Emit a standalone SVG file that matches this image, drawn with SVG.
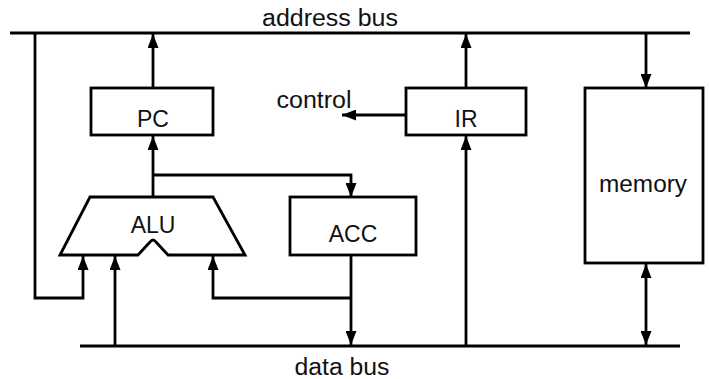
<svg xmlns="http://www.w3.org/2000/svg" width="709" height="379" viewBox="0 0 709 379">
<style>
.ln{fill:none;stroke:#000;stroke-width:2.8;stroke-linejoin:miter}
.box{fill:#fff;stroke:#000;stroke-width:2.8}
text{font-family:"Liberation Sans",Arial,sans-serif;font-size:23px;fill:#111;text-anchor:middle}
</style>
<defs>
<marker id="ah" viewBox="0 0 14 11" refX="14" refY="5.5" markerWidth="14" markerHeight="11" markerUnits="userSpaceOnUse" orient="auto-start-reverse">
<path d="M0,0 L14,5.5 L0,11 z" fill="#000"/>
</marker>
</defs>
<rect width="709" height="379" fill="#fff"/>
<text x="330" y="26" textLength="136" lengthAdjust="spacingAndGlyphs">address bus</text>
<text x="342" y="375" textLength="95" lengthAdjust="spacingAndGlyphs">data bus</text>
<g id="connectors">
<line class="ln" x1="10" y1="33" x2="690" y2="33"/>
<line class="ln" x1="80" y1="346" x2="680" y2="346"/>
<polyline class="ln" points="35,33 35,298 83,298 83,256" marker-end="url(#ah)"/>
<line class="ln" x1="153" y1="88" x2="153" y2="34" marker-end="url(#ah)"/>
<line class="ln" x1="153" y1="197" x2="153" y2="136" marker-end="url(#ah)"/>
<polyline class="ln" points="153,175 351,175 351,197" marker-end="url(#ah)"/>
<line class="ln" x1="351" y1="255" x2="351" y2="345" marker-end="url(#ah)"/>
<polyline class="ln" points="351,298 213,298 213,256" marker-end="url(#ah)"/>
<line class="ln" x1="115" y1="346" x2="115" y2="256" marker-end="url(#ah)"/>
<line class="ln" x1="466" y1="88" x2="466" y2="34" marker-end="url(#ah)"/>
<line class="ln" x1="466" y1="346" x2="466" y2="136" marker-end="url(#ah)"/>
<line class="ln" x1="406" y1="115" x2="342" y2="115" marker-end="url(#ah)"/>
<line class="ln" x1="646" y1="33" x2="646" y2="88" marker-end="url(#ah)"/>
<line class="ln" x1="646" y1="264" x2="646" y2="345" marker-start="url(#ah)" marker-end="url(#ah)"/>
</g>
<g id="control">
<text x="314" y="108" textLength="75" lengthAdjust="spacingAndGlyphs">control</text>
</g>
<g id="pc">
<rect class="box" x="91" y="88" width="122" height="47"/>
<text x="153" y="127">PC</text>
</g>
<g id="ir">
<rect class="box" x="406" y="88" width="120" height="47"/>
<text x="466" y="127">IR</text>
</g>
<g id="alu">
<path class="box" d="M90,197 L213,197 L245,255 L168,255 L156,242 Q153,238 150,242 L138,255 L60,255 Z"/>
<text x="153" y="233">ALU</text>
</g>
<g id="acc">
<rect class="box" x="290" y="197" width="126" height="58"/>
<text x="353" y="242">ACC</text>
</g>
<g id="memory">
<rect class="box" x="585" y="88" width="118" height="175"/>
<text x="643" y="192" textLength="88" lengthAdjust="spacingAndGlyphs">memory</text>
</g>
</svg>
